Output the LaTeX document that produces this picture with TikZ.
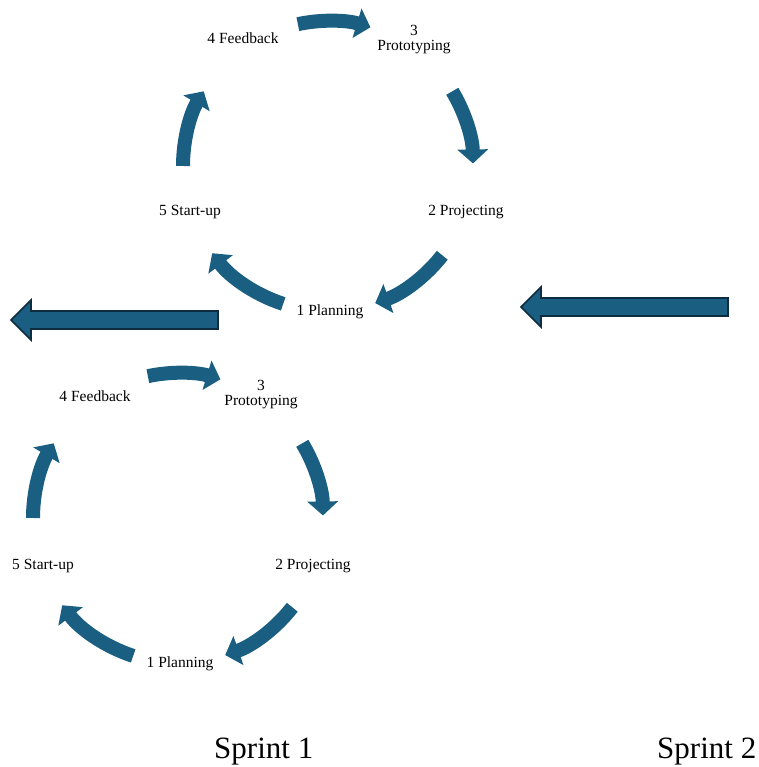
\documentclass[tikz,border=0pt]{standalone}
\usepackage{fontspec}
\setmainfont{Liberation Serif}
\usetikzlibrary{arrows.meta}
\definecolor{cyc}{RGB}{26,95,130}
\definecolor{cycdark}{RGB}{14,44,64}
\begin{document}
\begin{tikzpicture}[x=1pt,y=1pt,
  lbl/.style={font=\fontsize{15.5}{15}\selectfont, align=center, inner sep=0pt},
  sprint/.style={font=\fontsize{31}{31}\selectfont, inner sep=0pt, anchor=west},
  arcarrow/.style={draw=cyc, line width=14pt, -{Triangle[width=30pt,length=14pt]}},
  bigarrow/.style={draw=cycdark, line width=1.6pt, fill=cyc, line join=miter}]
\useasboundingbox (0,0) rectangle (758,767);

% cycle centres
\coordinate (cA) at (328,601); % upper cycle
\coordinate (cB) at (178,249); % lower cycle

% ---- upper cycle ----
\node[lbl] (a1) at (330,455) {1 Planning};
\node[lbl] (a2) at (466,555) {2 Projecting};
\node[lbl] (a3) at (414,727) {3\\Prototyping};
\node[lbl] (a4) at (243,729) {4 Feedback};
\node[lbl] (a5) at (190,555) {5 Start-up};

\draw[arcarrow] ([shift={(252:145)}]cA) arc[start angle=252, end angle=217, radius=145];
\draw[arcarrow] ([shift={(180:145)}]cA) arc[start angle=180, end angle=149, radius=145];
\draw[arcarrow] ([shift={(102:145)}]cA) arc[start angle=102, end angle=73, radius=145];
\draw[arcarrow] ([shift={(31:145)}]cA) arc[start angle=31, end angle=1, radius=145];
\draw[arcarrow] ([shift={(-38:145)}]cA) arc[start angle=-38, end angle=-71, radius=145];

% ---- lower cycle ----
\node[lbl] (b1) at (180,103) {1 Planning};
\node[lbl] (b2) at (313,201) {2 Projecting};
\node[lbl] (b3) at (261,372) {3\\Prototyping};
\node[lbl] (b4) at (95,371) {4 Feedback};
\node[lbl] (b5) at (43,201) {5 Start-up};

\draw[arcarrow] ([shift={(252:145)}]cB) arc[start angle=252, end angle=217, radius=145];
\draw[arcarrow] ([shift={(180:145)}]cB) arc[start angle=180, end angle=149, radius=145];
\draw[arcarrow] ([shift={(102:145)}]cB) arc[start angle=102, end angle=73, radius=145];
\draw[arcarrow] ([shift={(31:145)}]cB) arc[start angle=31, end angle=1, radius=145];
\draw[arcarrow] ([shift={(-38:145)}]cB) arc[start angle=-38, end angle=-71, radius=145];

% ---- block arrows between sprints ----
\draw[bigarrow] (218,456) -- (31,456) -- (31,467) -- (11,447) -- (31,427) -- (31,438) -- (218,438) -- cycle;
\draw[bigarrow] (728,469) -- (541,469) -- (541,480) -- (521,460) -- (541,440) -- (541,451) -- (728,451) -- cycle;

% ---- sprint captions ----
\node[sprint] (s1) at (214,15) {Sprint 1};
\node[sprint] (s2) at (657,15) {Sprint 2};
\end{tikzpicture}
\end{document}
